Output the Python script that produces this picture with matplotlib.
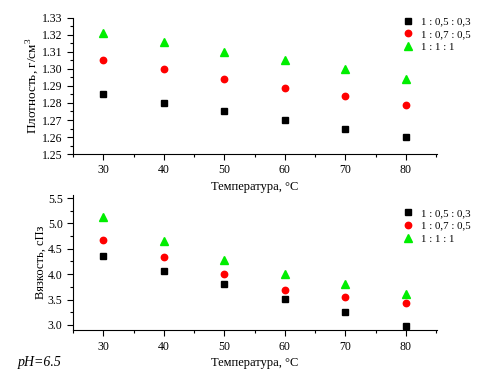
import matplotlib.pyplot as plt
from matplotlib.ticker import MultipleLocator

plt.rcParams['font.family'] = ['Liberation Serif', 'DejaVu Serif']
plt.rcParams['mathtext.fontset'] = 'custom'
plt.rcParams['mathtext.rm'] = 'Liberation Serif'

temp = [30, 40, 50, 60, 70, 80]
labels = ['1 : 0,5 : 0,3', '1 : 0,7 : 0,5', '1 : 1 : 1']

# density, g/cm3
dens_1 = [1.285, 1.280, 1.275, 1.270, 1.265, 1.260]
dens_2 = [1.305, 1.300, 1.294, 1.2886, 1.284, 1.279]
dens_3 = [1.321, 1.316, 1.310, 1.305, 1.300, 1.294]

# viscosity, cP
visc_1 = [4.35, 4.07, 3.80, 3.52, 3.26, 2.98]
visc_2 = [4.67, 4.33, 4.01, 3.69, 3.56, 3.43]
visc_3 = [5.12, 4.66, 4.28, 4.01, 3.80, 3.60]

styles = [('s', 'black', 4), ('o', 'red', 4.6), ('^', '#00ee00', 5.3)]

fig = plt.figure(figsize=(4.87, 3.89), dpi=100)
ax1 = fig.add_axes([0.150, 0.604, 0.747, 0.350])
ax2 = fig.add_axes([0.150, 0.151, 0.747, 0.349])


def setup(ax):
    for s in ['top', 'right']:
        ax.spines[s].set_visible(False)
    for s in ['left', 'bottom']:
        ax.spines[s].set_linewidth(0.8)
    ax.set_xlim(25, 85.1)
    ax.xaxis.set_major_locator(MultipleLocator(10))
    ax.xaxis.set_minor_locator(MultipleLocator(5))
    ax.tick_params(which='major', length=4, width=0.8, labelsize=8.5)
    ax.tick_params(which='minor', length=2.5, width=0.8)
    ax.set_xlabel('Температура, °C', fontsize=9, labelpad=3)


for vals, lab, (m, c, ms) in zip([dens_1, dens_2, dens_3], labels, styles):
    ax1.plot(temp, vals, m, color=c, ms=ms, ls='none', label=lab)
setup(ax1)
ax1.set_ylim(1.25, 1.33)
ax1.yaxis.set_major_locator(MultipleLocator(0.01))
ax1.yaxis.set_minor_locator(MultipleLocator(0.005))
ax1.set_ylabel('Плотность, г/см$^3$', fontsize=9.5, labelpad=1)
ax1.legend(loc='upper right', bbox_to_anchor=(1.12, 1.08), frameon=False,
           fontsize=7.8, handletextpad=0.6, labelspacing=0.3, handlelength=1.2)

for vals, lab, (m, c, ms) in zip([visc_1, visc_2, visc_3], labels, styles):
    ax2.plot(temp, vals, m, color=c, ms=ms, ls='none', label=lab)
setup(ax2)
ax2.set_ylim(2.895, 5.57)
ax2.yaxis.set_major_locator(MultipleLocator(0.5))
ax2.yaxis.set_minor_locator(MultipleLocator(0.25))
ax2.set_ylabel('Вязкость, сПз', fontsize=9, labelpad=1)
ax2.legend(loc='upper right', bbox_to_anchor=(1.12, 0.97), frameon=False,
           fontsize=7.8, handletextpad=0.6, labelspacing=0.3, handlelength=1.2)

fig.text(0.037, 0.058, 'pH=6.5', fontsize=10, style='italic')

fig.savefig('out.png', dpi=100)
